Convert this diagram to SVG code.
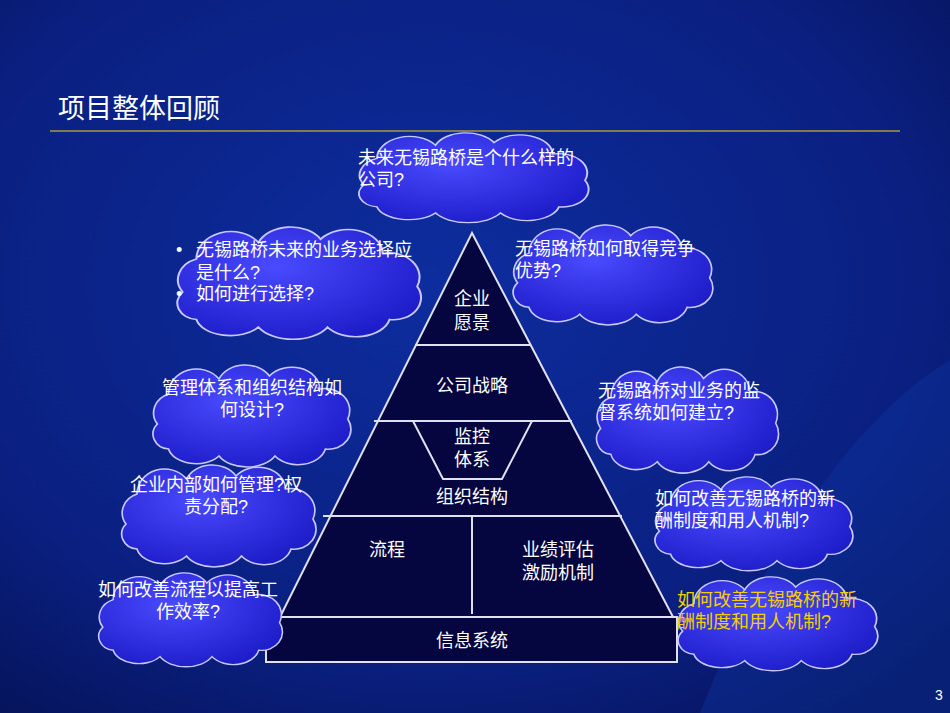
<svg xmlns="http://www.w3.org/2000/svg" xmlns:xlink="http://www.w3.org/1999/xlink" width="950" height="713" viewBox="0 0 950 713">
<defs>
<radialGradient id="bg" cx="0.45" cy="0.4" r="0.75"><stop offset="0" stop-color="#0d2d9e"/><stop offset="0.7" stop-color="#0a1f80"/><stop offset="1" stop-color="#06145c"/></radialGradient>
<radialGradient id="cg" cx="0.4" cy="0.35" r="0.7"><stop offset="0" stop-color="#4a4aff"/><stop offset="1" stop-color="#1c1cc8"/></radialGradient>
<path id="cloud" d="M20,60 A20,20 0 0 1 30,30 A25,25 0 0 1 75,15 A25,22 0 0 1 120,12 A25,22 0 0 1 165,25 A22,22 0 0 1 190,55 A20,20 0 0 1 170,85 A25,20 0 0 1 125,92 A28,20 0 0 1 75,92 A25,18 0 0 1 30,85 A15,15 0 0 1 20,60 Z"/>
</defs>
<style>
.c{fill:url(#cg);stroke:#c8c8ff;stroke-width:1.5;vector-effect:non-scaling-stroke}
.t{font-family:"Liberation Sans","Noto Sans CJK SC",sans-serif;font-size:18px;fill:#fff}
.m{text-anchor:middle}
.p{fill:#05053f;stroke:#e0e0f0;stroke-width:2}
.l{stroke:#e0e0f0;stroke-width:2;fill:none}
</style>
<rect width="950" height="713" fill="url(#bg)"/>
<path d="M700,713 C760,560 850,420 950,360 L950,713 Z" fill="#0e3aa8" opacity="0.35"/>
<text x="58" y="118" font-family="'Noto Sans CJK SC',sans-serif" font-size="27" fill="#fff">项目整体回顾</text>
<line x1="50" y1="131" x2="900" y2="131" stroke="#a89a3a" stroke-width="1.5"/>
<text x="935" y="700" class="t" style="font-size:14px">3</text>

<g id="pyramid">
<polygon class="p" points="472,233 280,617 673,617"/>
<rect class="p" x="266" y="617" width="411" height="45"/>
<line class="l" x1="415" y1="345" x2="530" y2="345"/>
<line class="l" x1="374" y1="421" x2="572" y2="421"/>
<line class="l" x1="323" y1="516" x2="622" y2="516"/>
<line class="l" x1="472" y1="516" x2="472" y2="614"/>
<polyline class="l" points="413,421 443,479 502,479 532,421"/>
<text class="t m" x="472" y="305">企业</text><text class="t m" x="472" y="329">愿景</text>
<text class="t m" x="472" y="392">公司战略</text>
<text class="t m" x="472" y="443">监控</text><text class="t m" x="472" y="466">体系</text>
<text class="t m" x="472" y="503">组织结构</text>
<text class="t m" x="387" y="556">流程</text>
<text class="t m" x="558" y="556">业绩评估</text><text class="t m" x="558" y="579">激励机制</text>
<text class="t m" x="472" y="647">信息系统</text>
</g>

<g id="cloud1"><use href="#cloud" class="c" transform="translate(338,132) scale(1.3,0.88)"/>
<text class="t" x="358" y="164">未来无锡路桥是个什么样的</text><text class="t" x="358" y="186">公司?</text></g>
<g id="cloud2"><use href="#cloud" class="c" transform="translate(155,226) scale(1.38,1.1)"/>
<text class="t" x="176" y="256">•</text><text class="t" x="196" y="256">无锡路桥未来的业务选择应</text><text class="t" x="196" y="279">是什么?</text><text class="t" x="176" y="300">•</text><text class="t" x="196" y="300">如何进行选择?</text></g>
<g id="cloud3"><use href="#cloud" class="c" transform="translate(495,224) scale(1.13,0.98)"/>
<text class="t" x="515" y="255">无锡路桥如何取得竞争</text><text class="t" x="515" y="277">优势?</text></g>
<g id="cloud4"><use href="#cloud" class="c" transform="translate(135,364) scale(1.12,1.0)"/>
<text class="t m" x="252" y="394">管理体系和组织结构如</text><text class="t m" x="252" y="416">何设计?</text></g>
<g id="cloud5"><use href="#cloud" class="c" transform="translate(580,366) scale(1.03,1.04)"/>
<text class="t" x="598" y="397">无锡路桥对业务的监</text><text class="t" x="598" y="419">督系统如何建立?</text></g>
<g id="cloud6"><use href="#cloud" class="c" transform="translate(104,464) scale(1.1,1.0)"/>
<text class="t m" x="216" y="491">企业内部如何管理?权</text><text class="t m" x="216" y="513">责分配?</text></g>
<g id="cloud7"><use href="#cloud" class="c" transform="translate(637,476) scale(1.12,0.92)"/>
<text class="t" x="655" y="505">如何改善无锡路桥的新</text><text class="t" x="655" y="527">酬制度和用人机制?</text></g>
<g id="cloud8"><use href="#cloud" class="c" transform="translate(82,572) scale(1.04,0.92)"/>
<text class="t m" x="188" y="596">如何改善流程以提高工</text><text class="t m" x="188" y="618">作效率?</text></g>
<g id="cloud9"><use href="#cloud" class="c" transform="translate(660,576) scale(1.13,0.92)"/>
<text class="t" x="677" y="606" style="fill:#f5d000">如何改善无锡路桥的新</text><text class="t" x="677" y="628" style="fill:#f5d000">酬制度和用人机制?</text></g>
</svg>
